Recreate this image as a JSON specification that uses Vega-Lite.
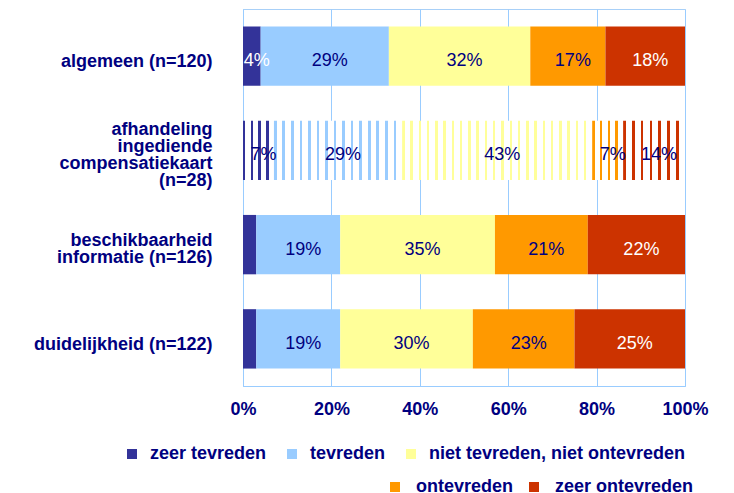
{
  "$schema": "https://vega.github.io/schema/vega-lite/v6.json",
  "width": 442,
  "height": 377,
  "autosize": {"type": "none"},
  "padding": {"left": 243, "top": 9, "right": 49, "bottom": 107},
  "background": "white",
  "config": {
    "font": "Liberation Sans",
    "view": {"stroke": "#a8d0f8", "strokeWidth": 1}
  },
  "data": {
    "values": [
      {"q": "algemeen (n=120)", "cat": "zeer tevreden", "k": 1, "v": 4},
      {"q": "algemeen (n=120)", "cat": "tevreden", "k": 2, "v": 29},
      {"q": "algemeen (n=120)", "cat": "niet tevreden, niet ontevreden", "k": 3, "v": 32},
      {"q": "algemeen (n=120)", "cat": "ontevreden", "k": 4, "v": 17},
      {"q": "algemeen (n=120)", "cat": "zeer ontevreden", "k": 5, "v": 18},
      {"q": "afhandeling|ingediende|compensatiekaart|(n=28)", "cat": "zeer tevreden", "k": 1, "v": 7},
      {"q": "afhandeling|ingediende|compensatiekaart|(n=28)", "cat": "tevreden", "k": 2, "v": 29},
      {"q": "afhandeling|ingediende|compensatiekaart|(n=28)", "cat": "niet tevreden, niet ontevreden", "k": 3, "v": 43},
      {"q": "afhandeling|ingediende|compensatiekaart|(n=28)", "cat": "ontevreden", "k": 4, "v": 7},
      {"q": "afhandeling|ingediende|compensatiekaart|(n=28)", "cat": "zeer ontevreden", "k": 5, "v": 14},
      {"q": "beschikbaarheid|informatie (n=126)", "cat": "zeer tevreden", "k": 1, "v": 3},
      {"q": "beschikbaarheid|informatie (n=126)", "cat": "tevreden", "k": 2, "v": 19},
      {"q": "beschikbaarheid|informatie (n=126)", "cat": "niet tevreden, niet ontevreden", "k": 3, "v": 35},
      {"q": "beschikbaarheid|informatie (n=126)", "cat": "ontevreden", "k": 4, "v": 21},
      {"q": "beschikbaarheid|informatie (n=126)", "cat": "zeer ontevreden", "k": 5, "v": 22},
      {"q": "duidelijkheid (n=122)", "cat": "zeer tevreden", "k": 1, "v": 3},
      {"q": "duidelijkheid (n=122)", "cat": "tevreden", "k": 2, "v": 19},
      {"q": "duidelijkheid (n=122)", "cat": "niet tevreden, niet ontevreden", "k": 3, "v": 30},
      {"q": "duidelijkheid (n=122)", "cat": "ontevreden", "k": 4, "v": 23},
      {"q": "duidelijkheid (n=122)", "cat": "zeer ontevreden", "k": 5, "v": 25}
    ]
  },
  "transform": [
    {"stack": "v", "groupby": ["q"], "sort": [{"field": "k", "order": "ascending"}], "as": ["x0", "x1"]}
  ],
  "encoding": {
    "y": {
      "field": "q",
      "type": "nominal",
      "sort": ["algemeen (n=120)", "afhandeling|ingediende|compensatiekaart|(n=28)", "beschikbaarheid|informatie (n=126)", "duidelijkheid (n=122)"],
      "scale": {"paddingInner": 0.37, "paddingOuter": 0.185},
      "axis": {
        "title": null,
        "ticks": false,
        "domainColor": "#99ccff",
        "labelExpr": "split(datum.label, '|')",
        "labelFontSize": 18,
        "labelFontWeight": "bold",
        "labelColor": "#000080",
        "labelPadding": 31,
        "labelLimit": 400,
        "labelLineHeight": 17,
        "labelOffset": {
          "condition": [
            {"test": "datum.value == 'afhandeling|ingediende|compensatiekaart|(n=28)'", "value": -20},
            {"test": "datum.value == 'beschikbaarheid|informatie (n=126)'", "value": -4}
          ],
          "value": 6
        }
      }
    }
  },
  "layer": [
    {
      "transform": [{"filter": "datum.q != 'afhandeling|ingediende|compensatiekaart|(n=28)' && datum.k <= 3"}],
      "mark": {"type": "bar"},
      "encoding": {
        "x": {
          "field": "x0",
          "type": "quantitative",
          "scale": {"domain": [0, 100], "nice": false},
          "axis": {
            "title": null,
            "values": [0, 20, 40, 60, 80, 100],
            "labelExpr": "datum.value + '%'",
            "grid": true,
            "gridColor": "#99ccff",
            "domainColor": "#99ccff",
            "ticks": false,
            "labelFlush": false,
            "labelFontSize": 18,
            "labelFontWeight": "bold",
            "labelColor": "#000080",
            "labelPadding": 14
          }
        },
        "x2": {"field": "x1"},
        "color": {
          "field": "cat",
          "type": "nominal",
          "scale": {
            "domain": ["zeer tevreden", "tevreden", "niet tevreden, niet ontevreden"],
            "range": ["#333399", "#99ccff", "#ffff99"]
          },
          "legend": {
            "orient": "none",
            "legendX": -120,
            "legendY": 436,
            "direction": "horizontal",
            "columns": 3,
            "columnPadding": 16,
            "labelOffset": 9,
            "symbolType": "square",
            "symbolSize": 100,
            "symbolStrokeWidth": 0,
            "symbolOpacity": 1,
            "title": null,
            "padding": 0,
            "labelFontSize": 18,
            "labelFontWeight": "bold",
            "labelColor": "#000080",
            "labelLimit": 400
          }
        }
      }
    },
    {
      "transform": [{"filter": "datum.q != 'afhandeling|ingediende|compensatiekaart|(n=28)' && datum.k >= 4"}],
      "mark": {"type": "bar"},
      "encoding": {
        "x": {"field": "x0", "type": "quantitative"},
        "x2": {"field": "x1"},
        "fill": {
          "field": "cat",
          "type": "nominal",
          "scale": {
            "domain": ["ontevreden", "zeer ontevreden"],
            "range": ["#ff9900", "#cc3300"]
          },
          "legend": {
            "orient": "none",
            "legendX": 143,
            "legendY": 469,
            "direction": "horizontal",
            "columns": 2,
            "columnPadding": 11,
            "labelOffset": 12,
            "symbolType": "square",
            "symbolSize": 100,
            "symbolStrokeWidth": 0,
            "symbolOpacity": 1,
            "title": null,
            "padding": 0,
            "labelFontSize": 18,
            "labelFontWeight": "bold",
            "labelColor": "#000080",
            "labelLimit": 400
          }
        }
      }
    },
    {
      "transform": [{"filter": "datum.q == 'afhandeling|ingediende|compensatiekaart|(n=28)' && datum.k == 1"}],
      "mark": {"type": "bar", "color": {"gradient": "linear", "x1": 0, "y1": 0, "x2": 1, "y2": 0, "stops": [
        {"offset": 0, "color": "#333399"}, {"offset": 0.075, "color": "#333399"}, {"offset": 0.075, "color": "#ffffff"}, {"offset": 0.25, "color": "#ffffff"},
        {"offset": 0.25, "color": "#333399"}, {"offset": 0.325, "color": "#333399"}, {"offset": 0.325, "color": "#ffffff"}, {"offset": 0.5, "color": "#ffffff"},
        {"offset": 0.5, "color": "#333399"}, {"offset": 0.575, "color": "#333399"}, {"offset": 0.575, "color": "#ffffff"}, {"offset": 0.75, "color": "#ffffff"},
        {"offset": 0.75, "color": "#333399"}, {"offset": 0.825, "color": "#333399"}, {"offset": 0.825, "color": "#ffffff"}, {"offset": 1, "color": "#ffffff"}
      ]}},
      "encoding": {
        "x": {"field": "x0", "type": "quantitative"},
        "x2": {"field": "x1"}
      }
    },
    {
      "transform": [{"filter": "datum.q == 'afhandeling|ingediende|compensatiekaart|(n=28)' && datum.k == 2"}],
      "mark": {"type": "bar", "color": {"gradient": "linear", "x1": 0, "y1": 0, "x2": 1, "y2": 0, "stops": [
        {"offset": 0, "color": "#99ccff"}, {"offset": 0.02, "color": "#99ccff"}, {"offset": 0.02, "color": "#ffffff"}, {"offset": 0.066667, "color": "#ffffff"},
        {"offset": 0.066667, "color": "#99ccff"}, {"offset": 0.086667, "color": "#99ccff"}, {"offset": 0.086667, "color": "#ffffff"}, {"offset": 0.133333, "color": "#ffffff"},
        {"offset": 0.133333, "color": "#99ccff"}, {"offset": 0.153333, "color": "#99ccff"}, {"offset": 0.153333, "color": "#ffffff"}, {"offset": 0.2, "color": "#ffffff"},
        {"offset": 0.2, "color": "#99ccff"}, {"offset": 0.22, "color": "#99ccff"}, {"offset": 0.22, "color": "#ffffff"}, {"offset": 0.266667, "color": "#ffffff"},
        {"offset": 0.266667, "color": "#99ccff"}, {"offset": 0.286667, "color": "#99ccff"}, {"offset": 0.286667, "color": "#ffffff"}, {"offset": 0.333333, "color": "#ffffff"},
        {"offset": 0.333333, "color": "#99ccff"}, {"offset": 0.353333, "color": "#99ccff"}, {"offset": 0.353333, "color": "#ffffff"}, {"offset": 0.4, "color": "#ffffff"},
        {"offset": 0.4, "color": "#99ccff"}, {"offset": 0.42, "color": "#99ccff"}, {"offset": 0.42, "color": "#ffffff"}, {"offset": 0.466667, "color": "#ffffff"},
        {"offset": 0.466667, "color": "#99ccff"}, {"offset": 0.486667, "color": "#99ccff"}, {"offset": 0.486667, "color": "#ffffff"}, {"offset": 0.533333, "color": "#ffffff"},
        {"offset": 0.533333, "color": "#99ccff"}, {"offset": 0.553333, "color": "#99ccff"}, {"offset": 0.553333, "color": "#ffffff"}, {"offset": 0.6, "color": "#ffffff"},
        {"offset": 0.6, "color": "#99ccff"}, {"offset": 0.62, "color": "#99ccff"}, {"offset": 0.62, "color": "#ffffff"}, {"offset": 0.666667, "color": "#ffffff"},
        {"offset": 0.666667, "color": "#99ccff"}, {"offset": 0.686667, "color": "#99ccff"}, {"offset": 0.686667, "color": "#ffffff"}, {"offset": 0.733333, "color": "#ffffff"},
        {"offset": 0.733333, "color": "#99ccff"}, {"offset": 0.753333, "color": "#99ccff"}, {"offset": 0.753333, "color": "#ffffff"}, {"offset": 0.8, "color": "#ffffff"},
        {"offset": 0.8, "color": "#99ccff"}, {"offset": 0.82, "color": "#99ccff"}, {"offset": 0.82, "color": "#ffffff"}, {"offset": 0.866667, "color": "#ffffff"},
        {"offset": 0.866667, "color": "#99ccff"}, {"offset": 0.886667, "color": "#99ccff"}, {"offset": 0.886667, "color": "#ffffff"}, {"offset": 0.933333, "color": "#ffffff"},
        {"offset": 0.933333, "color": "#99ccff"}, {"offset": 0.953333, "color": "#99ccff"}, {"offset": 0.953333, "color": "#ffffff"}, {"offset": 1, "color": "#ffffff"}
      ]}},
      "encoding": {
        "x": {"field": "x0", "type": "quantitative"},
        "x2": {"field": "x1"}
      }
    },
    {
      "transform": [{"filter": "datum.q == 'afhandeling|ingediende|compensatiekaart|(n=28)' && datum.k == 3"}],
      "mark": {"type": "bar", "color": {"gradient": "linear", "x1": 0, "y1": 0, "x2": 1, "y2": 0, "stops": [
        {"offset": 0, "color": "#ffff99"}, {"offset": 0.013043, "color": "#ffff99"}, {"offset": 0.013043, "color": "#ffffff"}, {"offset": 0.043478, "color": "#ffffff"},
        {"offset": 0.043478, "color": "#ffff99"}, {"offset": 0.056521, "color": "#ffff99"}, {"offset": 0.056521, "color": "#ffffff"}, {"offset": 0.086957, "color": "#ffffff"},
        {"offset": 0.086957, "color": "#ffff99"}, {"offset": 0.1, "color": "#ffff99"}, {"offset": 0.1, "color": "#ffffff"}, {"offset": 0.130435, "color": "#ffffff"},
        {"offset": 0.130435, "color": "#ffff99"}, {"offset": 0.143478, "color": "#ffff99"}, {"offset": 0.143478, "color": "#ffffff"}, {"offset": 0.173913, "color": "#ffffff"},
        {"offset": 0.173913, "color": "#ffff99"}, {"offset": 0.186956, "color": "#ffff99"}, {"offset": 0.186956, "color": "#ffffff"}, {"offset": 0.217391, "color": "#ffffff"},
        {"offset": 0.217391, "color": "#ffff99"}, {"offset": 0.230434, "color": "#ffff99"}, {"offset": 0.230434, "color": "#ffffff"}, {"offset": 0.26087, "color": "#ffffff"},
        {"offset": 0.26087, "color": "#ffff99"}, {"offset": 0.273913, "color": "#ffff99"}, {"offset": 0.273913, "color": "#ffffff"}, {"offset": 0.304348, "color": "#ffffff"},
        {"offset": 0.304348, "color": "#ffff99"}, {"offset": 0.317391, "color": "#ffff99"}, {"offset": 0.317391, "color": "#ffffff"}, {"offset": 0.347826, "color": "#ffffff"},
        {"offset": 0.347826, "color": "#ffff99"}, {"offset": 0.360869, "color": "#ffff99"}, {"offset": 0.360869, "color": "#ffffff"}, {"offset": 0.391304, "color": "#ffffff"},
        {"offset": 0.391304, "color": "#ffff99"}, {"offset": 0.404347, "color": "#ffff99"}, {"offset": 0.404347, "color": "#ffffff"}, {"offset": 0.434783, "color": "#ffffff"},
        {"offset": 0.434783, "color": "#ffff99"}, {"offset": 0.447826, "color": "#ffff99"}, {"offset": 0.447826, "color": "#ffffff"}, {"offset": 0.478261, "color": "#ffffff"},
        {"offset": 0.478261, "color": "#ffff99"}, {"offset": 0.491304, "color": "#ffff99"}, {"offset": 0.491304, "color": "#ffffff"}, {"offset": 0.521739, "color": "#ffffff"},
        {"offset": 0.521739, "color": "#ffff99"}, {"offset": 0.534782, "color": "#ffff99"}, {"offset": 0.534782, "color": "#ffffff"}, {"offset": 0.565217, "color": "#ffffff"},
        {"offset": 0.565217, "color": "#ffff99"}, {"offset": 0.57826, "color": "#ffff99"}, {"offset": 0.57826, "color": "#ffffff"}, {"offset": 0.608696, "color": "#ffffff"},
        {"offset": 0.608696, "color": "#ffff99"}, {"offset": 0.621739, "color": "#ffff99"}, {"offset": 0.621739, "color": "#ffffff"}, {"offset": 0.652174, "color": "#ffffff"},
        {"offset": 0.652174, "color": "#ffff99"}, {"offset": 0.665217, "color": "#ffff99"}, {"offset": 0.665217, "color": "#ffffff"}, {"offset": 0.695652, "color": "#ffffff"},
        {"offset": 0.695652, "color": "#ffff99"}, {"offset": 0.708695, "color": "#ffff99"}, {"offset": 0.708695, "color": "#ffffff"}, {"offset": 0.73913, "color": "#ffffff"},
        {"offset": 0.73913, "color": "#ffff99"}, {"offset": 0.752173, "color": "#ffff99"}, {"offset": 0.752173, "color": "#ffffff"}, {"offset": 0.782609, "color": "#ffffff"},
        {"offset": 0.782609, "color": "#ffff99"}, {"offset": 0.795652, "color": "#ffff99"}, {"offset": 0.795652, "color": "#ffffff"}, {"offset": 0.826087, "color": "#ffffff"},
        {"offset": 0.826087, "color": "#ffff99"}, {"offset": 0.83913, "color": "#ffff99"}, {"offset": 0.83913, "color": "#ffffff"}, {"offset": 0.869565, "color": "#ffffff"},
        {"offset": 0.869565, "color": "#ffff99"}, {"offset": 0.882608, "color": "#ffff99"}, {"offset": 0.882608, "color": "#ffffff"}, {"offset": 0.913043, "color": "#ffffff"},
        {"offset": 0.913043, "color": "#ffff99"}, {"offset": 0.926086, "color": "#ffff99"}, {"offset": 0.926086, "color": "#ffffff"}, {"offset": 0.956522, "color": "#ffffff"},
        {"offset": 0.956522, "color": "#ffff99"}, {"offset": 0.969565, "color": "#ffff99"}, {"offset": 0.969565, "color": "#ffffff"}, {"offset": 1, "color": "#ffffff"}
      ]}},
      "encoding": {
        "x": {"field": "x0", "type": "quantitative"},
        "x2": {"field": "x1"}
      }
    },
    {
      "transform": [{"filter": "datum.q == 'afhandeling|ingediende|compensatiekaart|(n=28)' && datum.k == 4"}],
      "mark": {"type": "bar", "color": {"gradient": "linear", "x1": 0, "y1": 0, "x2": 1, "y2": 0, "stops": [
        {"offset": 0, "color": "#ff9900"}, {"offset": 0.075, "color": "#ff9900"}, {"offset": 0.075, "color": "#ffffff"}, {"offset": 0.25, "color": "#ffffff"},
        {"offset": 0.25, "color": "#ff9900"}, {"offset": 0.325, "color": "#ff9900"}, {"offset": 0.325, "color": "#ffffff"}, {"offset": 0.5, "color": "#ffffff"},
        {"offset": 0.5, "color": "#ff9900"}, {"offset": 0.575, "color": "#ff9900"}, {"offset": 0.575, "color": "#ffffff"}, {"offset": 0.75, "color": "#ffffff"},
        {"offset": 0.75, "color": "#ff9900"}, {"offset": 0.825, "color": "#ff9900"}, {"offset": 0.825, "color": "#ffffff"}, {"offset": 1, "color": "#ffffff"}
      ]}},
      "encoding": {
        "x": {"field": "x0", "type": "quantitative"},
        "x2": {"field": "x1"}
      }
    },
    {
      "transform": [{"filter": "datum.q == 'afhandeling|ingediende|compensatiekaart|(n=28)' && datum.k == 5"}],
      "mark": {"type": "bar", "color": {"gradient": "linear", "x1": 0, "y1": 0, "x2": 1, "y2": 0, "stops": [
        {"offset": 0, "color": "#cc3300"}, {"offset": 0.042857, "color": "#cc3300"}, {"offset": 0.042857, "color": "#ffffff"}, {"offset": 0.142857, "color": "#ffffff"},
        {"offset": 0.142857, "color": "#cc3300"}, {"offset": 0.185714, "color": "#cc3300"}, {"offset": 0.185714, "color": "#ffffff"}, {"offset": 0.285714, "color": "#ffffff"},
        {"offset": 0.285714, "color": "#cc3300"}, {"offset": 0.328571, "color": "#cc3300"}, {"offset": 0.328571, "color": "#ffffff"}, {"offset": 0.428571, "color": "#ffffff"},
        {"offset": 0.428571, "color": "#cc3300"}, {"offset": 0.471429, "color": "#cc3300"}, {"offset": 0.471429, "color": "#ffffff"}, {"offset": 0.571429, "color": "#ffffff"},
        {"offset": 0.571429, "color": "#cc3300"}, {"offset": 0.614286, "color": "#cc3300"}, {"offset": 0.614286, "color": "#ffffff"}, {"offset": 0.714286, "color": "#ffffff"},
        {"offset": 0.714286, "color": "#cc3300"}, {"offset": 0.757143, "color": "#cc3300"}, {"offset": 0.757143, "color": "#ffffff"}, {"offset": 0.857143, "color": "#ffffff"},
        {"offset": 0.857143, "color": "#cc3300"}, {"offset": 0.9, "color": "#cc3300"}, {"offset": 0.9, "color": "#ffffff"}, {"offset": 1, "color": "#ffffff"}
      ]}},
      "encoding": {
        "x": {"field": "x0", "type": "quantitative"},
        "x2": {"field": "x1"}
      }
    },
    {
      "transform": [
        {"filter": "datum.v >= 4"},
        {"calculate": "(datum.x0 + datum.x1) / 2", "as": "mid"},
        {"calculate": "datum.v + '%'", "as": "lbl"}
      ],
      "mark": {"type": "text", "fontSize": 18, "dx": 5, "dy": 5},
      "encoding": {
        "x": {"field": "mid", "type": "quantitative"},
        "text": {"field": "lbl", "type": "nominal"},
        "color": {
          "condition": {"test": "(datum.k == 1 || datum.k == 5) && datum.q != 'afhandeling|ingediende|compensatiekaart|(n=28)'", "value": "#ffffff"},
          "value": "#000080"
        }
      }
    }
  ]
}
